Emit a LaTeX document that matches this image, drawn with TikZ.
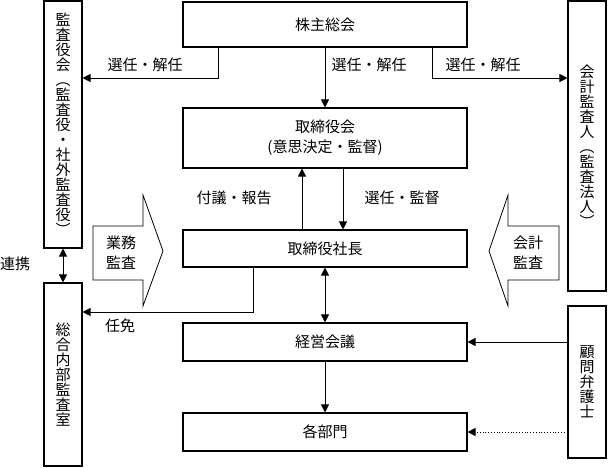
\documentclass[tikz,border=0pt]{standalone}
\usepackage{fontspec}
\setmainfont{Noto Sans CJK JP}
\usetikzlibrary{arrows.meta}
\setlength{\lineskiplimit}{-20pt}
\begin{document}
\begin{tikzpicture}[x=1pt,y=-1pt,
  box/.style={draw,line width=1.1pt,inner sep=0pt,align=center,font=\fontsize{15}{20}\selectfont},
  vbox/.style={draw,line width=1.1pt,inner sep=0pt,minimum width=38pt,align=center,font=\fontsize{15}{15}\selectfont},
  conn/.style={line width=0.8pt,-{Triangle[length=8pt,width=8pt]}},
  dconn/.style={line width=0.8pt,{Triangle[length=8pt,width=8pt]}-{Triangle[length=8pt,width=8pt]}},
  lbl/.style={font=\fontsize{15}{20}\selectfont,inner sep=0pt,align=center},
  blockarrow/.style={draw,line width=0.8pt,fill=white}
  ]
\useasboundingbox (0,0) rectangle (608,467);

% main column
\node[box,minimum width=284pt,minimum height=45pt] (sh) at (325,24.5) {株主総会};
\node[box,minimum width=284pt,minimum height=60pt] (bd) at (325,138) {取締役会\\(意思決定・監督)};
\node[box,minimum width=284pt,minimum height=37pt] (pres) at (325,248.5) {取締役社長};
\node[box,minimum width=284pt,minimum height=38pt] (mtg) at (325,342) {経営会議};
\node[box,minimum width=284pt,minimum height=38pt] (dept) at (325,432) {各部門};

% side boxes
\node[vbox,minimum height=247pt] (kansa) at (63,124.5) {監\\査\\役\\会\\︵\\監\\査\\役\\・\\社\\外\\監\\査\\役\\︶};
\node[vbox,minimum height=290pt] (audit) at (587,146) {会\\計\\監\\査\\人\\︵\\監\\査\\法\\人\\︶};
\node[vbox,minimum height=183pt] (internal) at (63,374.5) {総\\合\\内\\部\\監\\査\\室};
\node[vbox,minimum height=152pt] (lawyer) at (587,382) {顧\\問\\弁\\護\\士};

% block arrows
\draw[blockarrow] (93,226) -- (143,226) -- (143,195) -- (163,251) -- (143,306) -- (143,280) -- (93,280) -- cycle;
\node[lbl] (gyomu) at (121,253) {業務\\監査};
\draw[blockarrow] (559,226) -- (508,226) -- (508,195) -- (489,251) -- (508,306) -- (508,280) -- (559,280) -- cycle;
\node[lbl] (kaikei) at (528,253) {会計\\監査};

% coordinates
\coordinate (l1) at (218,78);
\coordinate (r1) at (432,78);
\coordinate (u1) at (302,0);
\coordinate (d1) at (343,0);
\coordinate (n1) at (253,312);

% connectors
\draw[conn] (sh) -- (bd);
\draw[conn] (sh.south -| l1) |- (kansa.east |- l1);
\draw[conn] (sh.south -| r1) |- (audit.west |- r1);
\draw[conn] (pres.north -| u1) -- (bd.south -| u1);
\draw[conn] (bd.south -| d1) -- (pres.north -| d1);
\draw[dconn] (pres) -- (mtg);
\draw[conn] (pres.south -| n1) |- (internal.east |- n1);
\draw[dconn] (kansa) -- (internal);
\draw[conn] (mtg) -- (dept);
\draw[conn] (lawyer.west |- mtg) -- (mtg.east);
\draw[conn,dotted] (lawyer.west |- dept) -- (dept.east);

% labels
\node[lbl] (t1) at (145,65) {選任・解任};
\node[lbl] (t2) at (369,65) {選任・解任};
\node[lbl] (t3) at (483,65) {選任・解任};
\node[lbl] (t4) at (234,198) {付議・報告};
\node[lbl] (t5) at (402,198) {選任・監督};
\node[lbl] (t6) at (120,326) {任免};
\node[lbl] (t7) at (15,264) {連携};
\end{tikzpicture}
\end{document}
